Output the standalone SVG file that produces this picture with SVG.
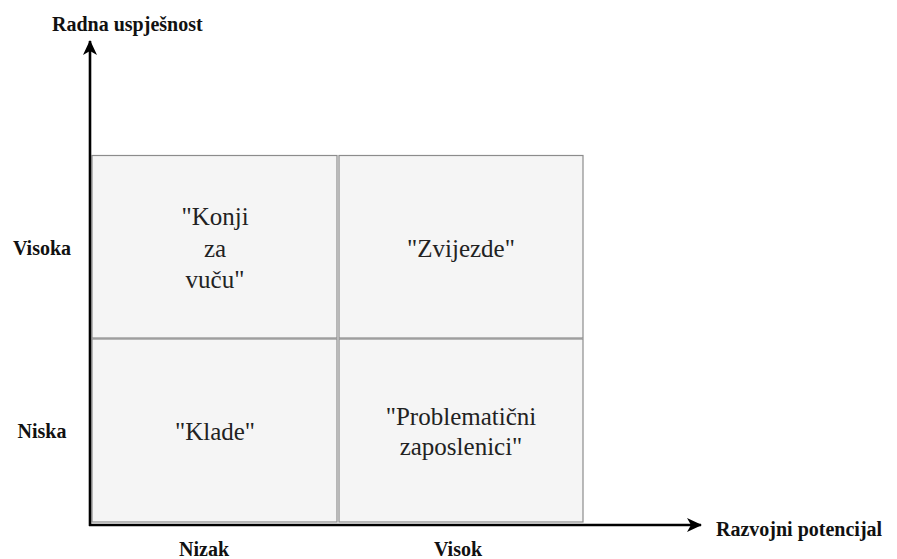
<svg xmlns="http://www.w3.org/2000/svg" width="897" height="559" viewBox="0 0 897 559">
<defs>
<style>
.cell{fill:#f5f5f5;stroke:#8c8c8c;stroke-width:1.2}
.ct{font-size:25px;fill:#222;text-anchor:middle}
.lb{font-size:20px;font-weight:bold;fill:#111}
.axis{stroke:#000;stroke-width:2.6;fill:none}
</style>
<marker id="ah" markerWidth="16" markerHeight="16" refX="14" refY="8" orient="auto" markerUnits="userSpaceOnUse">
<path d="M0,1 L15,8 L0,15 L4,8 Z" fill="#000"/>
</marker>
</defs>
<rect width="897" height="559" fill="#fff"/>
<g font-family="Liberation Serif, Tinos, Times New Roman, DejaVu Serif, Noto Serif, serif">
<g id="q-konji"><rect class="cell" x="92" y="155.5" width="245" height="182.5"/>
<text class="ct" x="215" y="225">"Konji</text><text class="ct" x="215" y="257">za</text><text class="ct" x="215" y="288">vuču"</text></g>
<g id="q-zvijezde"><rect class="cell" x="339" y="155.5" width="244" height="182.5"/>
<text class="ct" x="461" y="257">"Zvijezde"</text></g>
<g id="q-klade"><rect class="cell" x="92" y="339" width="245" height="183"/>
<text class="ct" x="215" y="440">"Klade"</text></g>
<g id="q-problem"><rect class="cell" x="339" y="339" width="244" height="183"/>
<text class="ct" x="461" y="425">"Problematični</text><text class="ct" x="461" y="455">zaposlenici"</text></g>
<g id="connectors">
<line class="axis" x1="90" y1="526" x2="90" y2="41" marker-end="url(#ah)"/>
<line class="axis" x1="89" y1="525" x2="701" y2="525" marker-end="url(#ah)"/>
</g>
<g id="labels">
<text class="lb" x="52" y="31">Radna uspješnost</text>
<text class="lb" x="42" y="255" text-anchor="middle">Visoka</text>
<text class="lb" x="42" y="438" text-anchor="middle">Niska</text>
<text class="lb" x="204" y="556" text-anchor="middle">Nizak</text>
<text class="lb" x="458" y="556" text-anchor="middle">Visok</text>
<text class="lb" x="716" y="536">Razvojni potencijal</text>
</g>
</g>
</svg>
